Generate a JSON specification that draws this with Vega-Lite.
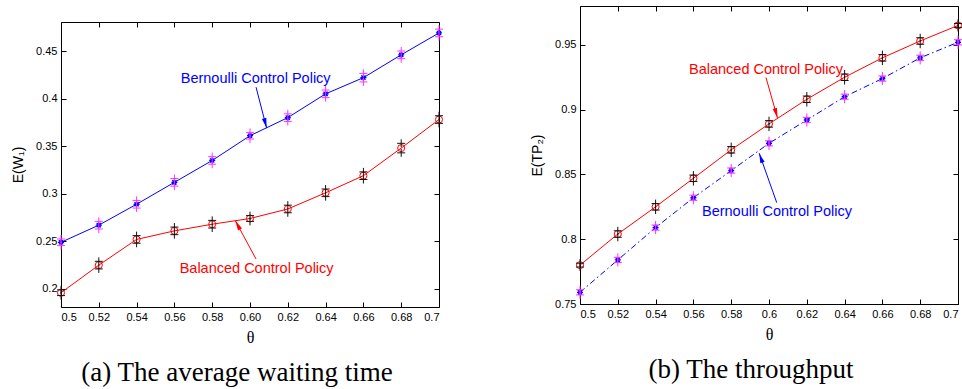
{
  "$schema": "https://vega.github.io/schema/vega-lite/v6.json",
  "padding": {"left": 10, "top": 5, "right": 0, "bottom": 0},
  "background": "white",
  "config": {
    "view": {"stroke": "black", "strokeWidth": 1},
    "axis": {"labelFont": "Liberation Sans", "labelFontSize": 11, "labelColor": "black", "tickColor": "black", "domain": false, "grid": false, "titleColor": "black", "tickSize": -5},
    "axisX": {"labelPadding": 9},
    "axisY": {"labelPadding": 9}
  },
  "datasets": {
    "a": [
      {"s": "Balanced", "t": 0.50, "v": 0.196, "lo": 0.193, "hi": 0.199},
      {"s": "Balanced", "t": 0.52, "v": 0.225, "lo": 0.221, "hi": 0.229},
      {"s": "Balanced", "t": 0.54, "v": 0.252, "lo": 0.248, "hi": 0.256},
      {"s": "Balanced", "t": 0.56, "v": 0.261, "lo": 0.257, "hi": 0.265},
      {"s": "Balanced", "t": 0.58, "v": 0.268, "lo": 0.264, "hi": 0.272},
      {"s": "Balanced", "t": 0.60, "v": 0.274, "lo": 0.271, "hi": 0.277},
      {"s": "Balanced", "t": 0.62, "v": 0.284, "lo": 0.280, "hi": 0.288},
      {"s": "Balanced", "t": 0.64, "v": 0.301, "lo": 0.297, "hi": 0.305},
      {"s": "Balanced", "t": 0.66, "v": 0.319, "lo": 0.315, "hi": 0.323},
      {"s": "Balanced", "t": 0.68, "v": 0.348, "lo": 0.343, "hi": 0.353},
      {"s": "Balanced", "t": 0.70, "v": 0.378, "lo": 0.374, "hi": 0.382},
      {"s": "Bernoulli", "t": 0.50, "v": 0.249, "lo": 0.2455, "hi": 0.2525},
      {"s": "Bernoulli", "t": 0.52, "v": 0.267, "lo": 0.263, "hi": 0.271},
      {"s": "Bernoulli", "t": 0.54, "v": 0.289, "lo": 0.285, "hi": 0.293},
      {"s": "Bernoulli", "t": 0.56, "v": 0.312, "lo": 0.308, "hi": 0.316},
      {"s": "Bernoulli", "t": 0.58, "v": 0.335, "lo": 0.331, "hi": 0.339},
      {"s": "Bernoulli", "t": 0.60, "v": 0.361, "lo": 0.3575, "hi": 0.3645},
      {"s": "Bernoulli", "t": 0.62, "v": 0.380, "lo": 0.376, "hi": 0.384},
      {"s": "Bernoulli", "t": 0.64, "v": 0.405, "lo": 0.401, "hi": 0.409},
      {"s": "Bernoulli", "t": 0.66, "v": 0.422, "lo": 0.4175, "hi": 0.4265},
      {"s": "Bernoulli", "t": 0.68, "v": 0.446, "lo": 0.442, "hi": 0.450},
      {"s": "Bernoulli", "t": 0.70, "v": 0.469, "lo": 0.465, "hi": 0.473}
    ],
    "b": [
      {"s": "Balanced", "t": 0.50, "v": 0.780, "lo": 0.7785, "hi": 0.7815},
      {"s": "Balanced", "t": 0.52, "v": 0.804, "lo": 0.8015, "hi": 0.8065},
      {"s": "Balanced", "t": 0.54, "v": 0.825, "lo": 0.8225, "hi": 0.8275},
      {"s": "Balanced", "t": 0.56, "v": 0.847, "lo": 0.8445, "hi": 0.8495},
      {"s": "Balanced", "t": 0.58, "v": 0.869, "lo": 0.8665, "hi": 0.8715},
      {"s": "Balanced", "t": 0.60, "v": 0.889, "lo": 0.8865, "hi": 0.8915},
      {"s": "Balanced", "t": 0.62, "v": 0.908, "lo": 0.9055, "hi": 0.9105},
      {"s": "Balanced", "t": 0.64, "v": 0.925, "lo": 0.9225, "hi": 0.9275},
      {"s": "Balanced", "t": 0.66, "v": 0.940, "lo": 0.9375, "hi": 0.9425},
      {"s": "Balanced", "t": 0.68, "v": 0.953, "lo": 0.9505, "hi": 0.9555},
      {"s": "Balanced", "t": 0.70, "v": 0.965, "lo": 0.9635, "hi": 0.9665},
      {"s": "Bernoulli", "t": 0.50, "v": 0.759, "lo": 0.757, "hi": 0.761},
      {"s": "Bernoulli", "t": 0.52, "v": 0.784, "lo": 0.782, "hi": 0.786},
      {"s": "Bernoulli", "t": 0.54, "v": 0.809, "lo": 0.807, "hi": 0.811},
      {"s": "Bernoulli", "t": 0.56, "v": 0.832, "lo": 0.830, "hi": 0.834},
      {"s": "Bernoulli", "t": 0.58, "v": 0.853, "lo": 0.851, "hi": 0.855},
      {"s": "Bernoulli", "t": 0.60, "v": 0.874, "lo": 0.872, "hi": 0.876},
      {"s": "Bernoulli", "t": 0.62, "v": 0.892, "lo": 0.890, "hi": 0.894},
      {"s": "Bernoulli", "t": 0.64, "v": 0.910, "lo": 0.908, "hi": 0.912},
      {"s": "Bernoulli", "t": 0.66, "v": 0.924, "lo": 0.922, "hi": 0.926},
      {"s": "Bernoulli", "t": 0.68, "v": 0.940, "lo": 0.938, "hi": 0.942},
      {"s": "Bernoulli", "t": 0.70, "v": 0.952, "lo": 0.950, "hi": 0.954}
    ],
    "annA": [
      {"s": "Bernoulli", "label": "Bernoulli Control Policy", "tx": 0.603, "ty": 0.4202, "x1": 0.6032, "y1": 0.412, "x2": 0.6088, "y2": 0.369},
      {"s": "Balanced", "label": "Balanced Control Policy", "tx": 0.6035, "ty": 0.2208, "x1": 0.6032, "y1": 0.2314, "x2": 0.5922, "y2": 0.2718}
    ],
    "annB": [
      {"s": "Balanced", "label": "Balanced Control Policy", "tx": 0.5984, "ty": 0.9308, "x1": 0.5984, "y1": 0.9248, "x2": 0.6045, "y2": 0.8935},
      {"s": "Bernoulli", "label": "Bernoulli Control Policy", "tx": 0.6042, "ty": 0.821, "x1": 0.6041, "y1": 0.8282, "x2": 0.5948, "y2": 0.8664}
    ]
  },
  "spacing": 83,
  "hconcat": [
    {
      "spacing": 0,
      "vconcat": [
        {"width": 378, "height": 15, "view": {"stroke": null}, "data": {"values": [{}]}, "mark": {"type": "point", "opacity": 0}},
        {
          "width": 378,
          "height": 285,
          "title": {"text": "(a) The average waiting time", "orient": "bottom", "anchor": "middle", "font": "Liberation Serif", "fontSize": 27, "fontWeight": "normal", "color": "black", "offset": 15, "dx": -13},
          "resolve": {"axis": {"x": "independent", "y": "independent"}},
          "layer": [
            {"data": {"name": "a"}, "transform": [{"filter": "datum.s === 'Balanced'"}],
             "mark": {"type": "line", "color": "#ff0000", "strokeWidth": 1},
             "encoding": {
               "x": {"field": "t", "type": "quantitative", "scale": {"domain": [0.5, 0.7], "nice": false, "zero": false},
                     "axis": {"orient": "bottom", "values": [0.5, 0.52, 0.54, 0.56, 0.58, 0.6, 0.62, 0.64, 0.66, 0.68, 0.7], "labelExpr": "abs(datum.value - 0.6) < 0.001 ? '0.60' : format(datum.value, '~g')", "title": "θ", "titleFont": "Liberation Serif", "titleFontSize": 16, "titleFontWeight": "normal", "titlePadding": 7}},
               "y": {"field": "v", "type": "quantitative", "scale": {"domain": [0.181, 0.4805], "nice": false, "zero": false},
                     "axis": {"orient": "left", "values": [0.2, 0.25, 0.3, 0.35, 0.4, 0.45], "format": "~g", "title": "E(W₁)", "titleFont": "Liberation Sans", "titleFontSize": 14, "titleFontWeight": "normal", "minExtent": 30, "maxExtent": 30, "titlePadding": 6}}
             }},
            {"data": {"name": "a"}, "transform": [{"filter": "datum.s === 'Bernoulli'"}],
             "mark": {"type": "line", "color": "#0000ff", "strokeWidth": 1},
             "encoding": {"x": {"field": "t", "type": "quantitative", "axis": null}, "y": {"field": "v", "type": "quantitative", "axis": null}}},
            {"data": {"name": "a"}, "transform": [{"filter": "datum.s === 'Balanced'"}],
             "mark": {"type": "point", "shape": "circle", "filled": false, "color": "#ff0000", "size": 50, "strokeWidth": 1, "opacity": 1},
             "encoding": {"x": {"field": "t", "type": "quantitative", "axis": null}, "y": {"field": "v", "type": "quantitative", "axis": null}}},
            {"data": {"name": "a"}, "transform": [{"filter": "datum.s === 'Bernoulli'"}],
             "mark": {"type": "point", "shape": "M-1,0L1,0M0,-1L0,1M-0.7,-0.7L0.7,0.7M-0.7,0.7L0.7,-0.7", "filled": false, "color": "#0000ff", "size": 36, "strokeWidth": 1.3, "opacity": 1},
             "encoding": {"x": {"field": "t", "type": "quantitative", "axis": null}, "y": {"field": "v", "type": "quantitative", "axis": null}}},
            {"data": {"name": "a"}, "transform": [{"filter": "datum.s === 'Balanced'"}, {"fold": ["lo", "hi"], "as": ["k", "b"]}],
             "mark": {"type": "point", "shape": "M-1,0L1,0M0,-1L0,1", "filled": false, "color": "#111111", "size": 64, "strokeWidth": 1, "opacity": 1},
             "encoding": {"x": {"field": "t", "type": "quantitative", "axis": null}, "y": {"field": "b", "type": "quantitative", "axis": null}}},
            {"data": {"name": "a"}, "transform": [{"filter": "datum.s === 'Bernoulli'"}, {"fold": ["lo", "hi"], "as": ["k", "b"]}],
             "mark": {"type": "point", "shape": "M-1,0L1,0M0,-1L0,1", "filled": false, "color": "#ff33ff", "size": 64, "strokeWidth": 1, "opacity": 1},
             "encoding": {"x": {"field": "t", "type": "quantitative", "axis": null}, "y": {"field": "b", "type": "quantitative", "axis": null}}},
            {"data": {"name": "annA"}, "transform": [{"filter": "datum.s === 'Bernoulli'"}],
             "mark": {"type": "text", "font": "Liberation Sans", "fontSize": 14.5, "color": "#0000ff", "align": "center", "baseline": "middle"},
             "encoding": {"x": {"field": "tx", "type": "quantitative", "axis": null}, "y": {"field": "ty", "type": "quantitative", "axis": null}, "text": {"field": "label"}}},
            {"data": {"name": "annA"}, "transform": [{"filter": "datum.s === 'Balanced'"}],
             "mark": {"type": "text", "font": "Liberation Sans", "fontSize": 14.5, "color": "#ff0000", "align": "center", "baseline": "middle"},
             "encoding": {"x": {"field": "tx", "type": "quantitative", "axis": null}, "y": {"field": "ty", "type": "quantitative", "axis": null}, "text": {"field": "label"}}},
            {"data": {"name": "annA"}, "transform": [{"filter": "datum.s === 'Bernoulli'"}],
             "mark": {"type": "rule", "color": "#0000ff", "strokeWidth": 1},
             "encoding": {"x": {"field": "x1", "type": "quantitative", "axis": null}, "y": {"field": "y1", "type": "quantitative", "axis": null}, "x2": {"field": "x2"}, "y2": {"field": "y2"}}},
            {"data": {"name": "annA"}, "transform": [{"filter": "datum.s === 'Balanced'"}],
             "mark": {"type": "rule", "color": "#ff0000", "strokeWidth": 1},
             "encoding": {"x": {"field": "x1", "type": "quantitative", "axis": null}, "y": {"field": "y1", "type": "quantitative", "axis": null}, "x2": {"field": "x2"}, "y2": {"field": "y2"}}},
            {"data": {"name": "annA"}, "transform": [{"filter": "datum.s === 'Bernoulli'"}],
             "mark": {"type": "point", "shape": "M0,0L0.45,2L-0.45,2Z", "filled": true, "color": "#0000ff", "size": 100, "angle": 165.4, "opacity": 1},
             "encoding": {"x": {"field": "x2", "type": "quantitative", "axis": null}, "y": {"field": "y2", "type": "quantitative", "axis": null}}},
            {"data": {"name": "annA"}, "transform": [{"filter": "datum.s === 'Balanced'"}],
             "mark": {"type": "point", "shape": "M0,0L0.45,2L-0.45,2Z", "filled": true, "color": "#ff0000", "size": 100, "angle": 331.6, "opacity": 1},
             "encoding": {"x": {"field": "x2", "type": "quantitative", "axis": null}, "y": {"field": "y2", "type": "quantitative", "axis": null}}},
            {"data": {"name": "a"},
             "mark": {"type": "point", "opacity": 0},
             "encoding": {
               "x": {"field": "t", "type": "quantitative", "axis": {"orient": "top", "values": [0.5, 0.52, 0.54, 0.56, 0.58, 0.6, 0.62, 0.64, 0.66, 0.68, 0.7], "labels": false, "title": null}},
               "y": {"field": "v", "type": "quantitative", "axis": {"orient": "right", "values": [0.2, 0.25, 0.3, 0.35, 0.4, 0.45], "labels": false, "title": null, "minExtent": 0}}
             }}
          ]
        }
      ]
    },
    {
      "width": 378,
      "height": 298,
      "title": {"text": "(b) The throughput", "orient": "bottom", "anchor": "middle", "font": "Liberation Serif", "fontSize": 27, "fontWeight": "normal", "color": "black", "offset": 15, "dx": -18},
      "resolve": {"axis": {"x": "independent", "y": "independent"}},
      "layer": [
        {"data": {"name": "b"}, "transform": [{"filter": "datum.s === 'Balanced'"}],
         "mark": {"type": "line", "color": "#ff0000", "strokeWidth": 1},
         "encoding": {
           "x": {"field": "t", "type": "quantitative", "scale": {"domain": [0.5, 0.7], "nice": false, "zero": false},
                 "axis": {"orient": "bottom", "values": [0.5, 0.52, 0.54, 0.56, 0.58, 0.6, 0.62, 0.64, 0.66, 0.68, 0.7], "format": "~g", "title": "θ", "titleFont": "Liberation Serif", "titleFontSize": 16, "titleFontWeight": "normal", "titlePadding": 7}},
           "y": {"field": "v", "type": "quantitative", "scale": {"domain": [0.75, 0.98], "nice": false, "zero": false},
                 "axis": {"orient": "left", "values": [0.75, 0.8, 0.85, 0.9, 0.95], "format": "~g", "title": "E(TP₂)", "titleFont": "Liberation Sans", "titleFontSize": 14, "titleFontWeight": "normal", "minExtent": 30, "maxExtent": 30, "titlePadding": 6}}
         }},
        {"data": {"name": "b"}, "transform": [{"filter": "datum.s === 'Bernoulli'"}],
         "mark": {"type": "line", "color": "#0000ff", "strokeWidth": 1, "strokeDash": [6, 3, 1.5, 3]},
         "encoding": {"x": {"field": "t", "type": "quantitative", "axis": null}, "y": {"field": "v", "type": "quantitative", "axis": null}}},
        {"data": {"name": "b"}, "transform": [{"filter": "datum.s === 'Balanced'"}],
         "mark": {"type": "point", "shape": "circle", "filled": false, "color": "#ff0000", "size": 50, "strokeWidth": 1, "opacity": 1},
         "encoding": {"x": {"field": "t", "type": "quantitative", "axis": null}, "y": {"field": "v", "type": "quantitative", "axis": null}}},
        {"data": {"name": "b"}, "transform": [{"filter": "datum.s === 'Bernoulli'"}],
         "mark": {"type": "point", "shape": "M-1,0L1,0M0,-1L0,1M-0.7,-0.7L0.7,0.7M-0.7,0.7L0.7,-0.7", "filled": false, "color": "#0000ff", "size": 36, "strokeWidth": 1.3, "opacity": 1},
         "encoding": {"x": {"field": "t", "type": "quantitative", "axis": null}, "y": {"field": "v", "type": "quantitative", "axis": null}}},
        {"data": {"name": "b"}, "transform": [{"filter": "datum.s === 'Balanced'"}, {"fold": ["lo", "hi"], "as": ["k", "b"]}],
         "mark": {"type": "point", "shape": "M-1,0L1,0M0,-1L0,1", "filled": false, "color": "#111111", "size": 64, "strokeWidth": 1, "opacity": 1},
         "encoding": {"x": {"field": "t", "type": "quantitative", "axis": null}, "y": {"field": "b", "type": "quantitative", "axis": null}}},
        {"data": {"name": "b"}, "transform": [{"filter": "datum.s === 'Bernoulli'"}, {"fold": ["lo", "hi"], "as": ["k", "b"]}],
         "mark": {"type": "point", "shape": "M-1,0L1,0M0,-1L0,1", "filled": false, "color": "#ff33ff", "size": 64, "strokeWidth": 1, "opacity": 1},
         "encoding": {"x": {"field": "t", "type": "quantitative", "axis": null}, "y": {"field": "b", "type": "quantitative", "axis": null}}},
        {"data": {"name": "annB"}, "transform": [{"filter": "datum.s === 'Bernoulli'"}],
         "mark": {"type": "text", "font": "Liberation Sans", "fontSize": 14.5, "color": "#0000ff", "align": "center", "baseline": "middle"},
         "encoding": {"x": {"field": "tx", "type": "quantitative", "axis": null}, "y": {"field": "ty", "type": "quantitative", "axis": null}, "text": {"field": "label"}}},
        {"data": {"name": "annB"}, "transform": [{"filter": "datum.s === 'Balanced'"}],
         "mark": {"type": "text", "font": "Liberation Sans", "fontSize": 14.5, "color": "#ff0000", "align": "center", "baseline": "middle"},
         "encoding": {"x": {"field": "tx", "type": "quantitative", "axis": null}, "y": {"field": "ty", "type": "quantitative", "axis": null}, "text": {"field": "label"}}},
        {"data": {"name": "annB"}, "transform": [{"filter": "datum.s === 'Bernoulli'"}],
         "mark": {"type": "rule", "color": "#0000ff", "strokeWidth": 1},
         "encoding": {"x": {"field": "x1", "type": "quantitative", "axis": null}, "y": {"field": "y1", "type": "quantitative", "axis": null}, "x2": {"field": "x2"}, "y2": {"field": "y2"}}},
        {"data": {"name": "annB"}, "transform": [{"filter": "datum.s === 'Balanced'"}],
         "mark": {"type": "rule", "color": "#ff0000", "strokeWidth": 1},
         "encoding": {"x": {"field": "x1", "type": "quantitative", "axis": null}, "y": {"field": "y1", "type": "quantitative", "axis": null}, "x2": {"field": "x2"}, "y2": {"field": "y2"}}},
        {"data": {"name": "annB"}, "transform": [{"filter": "datum.s === 'Bernoulli'"}],
         "mark": {"type": "point", "shape": "M0,0L0.45,2L-0.45,2Z", "filled": true, "color": "#0000ff", "size": 100, "angle": 340.6, "opacity": 1},
         "encoding": {"x": {"field": "x2", "type": "quantitative", "axis": null}, "y": {"field": "y2", "type": "quantitative", "axis": null}}},
        {"data": {"name": "annB"}, "transform": [{"filter": "datum.s === 'Balanced'"}],
         "mark": {"type": "point", "shape": "M0,0L0.45,2L-0.45,2Z", "filled": true, "color": "#ff0000", "size": 100, "angle": 164.3, "opacity": 1},
         "encoding": {"x": {"field": "x2", "type": "quantitative", "axis": null}, "y": {"field": "y2", "type": "quantitative", "axis": null}}},
        {"data": {"name": "b"},
         "mark": {"type": "point", "opacity": 0},
         "encoding": {
           "x": {"field": "t", "type": "quantitative", "axis": {"orient": "top", "values": [0.5, 0.52, 0.54, 0.56, 0.58, 0.6, 0.62, 0.64, 0.66, 0.68, 0.7], "labels": false, "title": null}},
           "y": {"field": "v", "type": "quantitative", "axis": {"orient": "right", "values": [0.75, 0.8, 0.85, 0.9, 0.95], "labels": false, "title": null, "minExtent": 0}}
         }}
      ]
    }
  ]
}
